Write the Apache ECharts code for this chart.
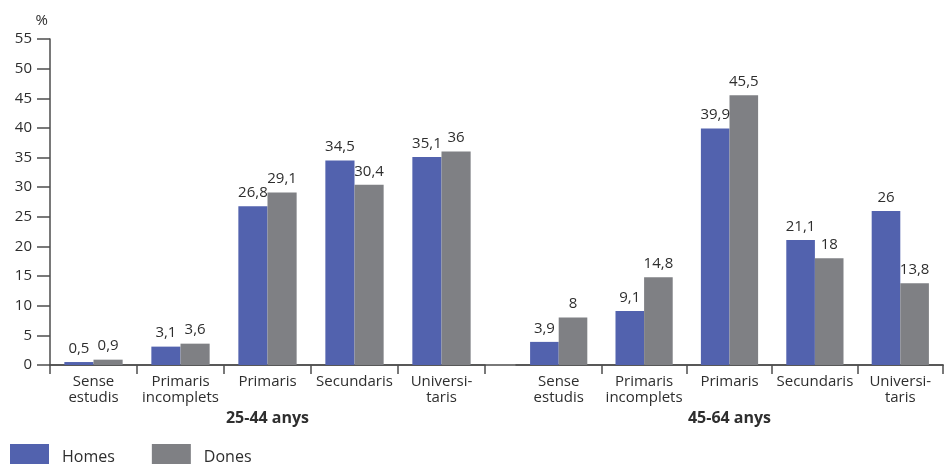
<!DOCTYPE html>
<html>
<head>
<meta charset="utf-8">
<script src="https://cdn.jsdelivr.net/npm/echarts@6/dist/echarts.min.js"></script>
<style>
  html, body { margin: 0; padding: 0; background: #fff; }
  #chart { width: 945px; height: 464px; }
</style>
</head>
<body>
<div id="chart"></div>
<script>
// Nivell d'estudis per grup d'edat i sexe (%)
const categories = ['Sense\nestudis', 'Primaris\nincomplets', 'Primaris', 'Secundaris', 'Universi-\ntaris'];
const ageGroups = ['25-44 anys', '45-64 anys'];
const seriesNames = ['Homes', 'Dones'];

const homes2544 = [0.5, 3.1, 26.8, 34.5, 35.1];
const dones2544 = [0.9, 3.6, 29.1, 30.4, 36];
const homes4564 = [3.9, 9.1, 39.9, 21.1, 26];
const dones4564 = [8, 14.8, 45.5, 18, 13.8];

const yTicks = [0, 5, 10, 15, 20, 25, 30, 35, 40, 45, 50, 55];

const BLUE = '#5262ae';
const GREY = '#7f8084';
const TEXT = '#2e2e2e';
const AXIS = '#4d4d4d';
const FONT = '"Open Sans", Lato, sans-serif';

const fmt = v => String(v).replace('.', ',');

const chart = echarts.init(document.getElementById('chart'), null, { renderer: 'canvas' });

const yMin = yTicks[0];
const yMax = yTicks[yTicks.length - 1];
const yStep = yTicks[1] - yTicks[0];

function catAxis(gridIndex, name, tickFilter) {
  return {
    type: 'category',
    gridIndex: gridIndex,
    data: categories,
    name: name,
    nameLocation: 'middle',
    nameGap: 44,
    nameTextStyle: { fontFamily: FONT, fontSize: 16, fontWeight: 'bold', color: TEXT },
    axisLine: { show: true, lineStyle: { color: AXIS, width: 1.5 } },
    axisTick: { show: true, length: 9, interval: tickFilter, lineStyle: { color: AXIS, width: 1.5 } },
    axisLabel: { margin: 9, fontFamily: FONT, fontSize: 15, color: TEXT, lineHeight: 16, interval: 0 }
  };
}

function valAxis(gridIndex, visible) {
  return {
    type: 'value',
    gridIndex: gridIndex,
    min: yMin,
    max: yMax,
    interval: yStep,
    show: visible,
    name: visible ? '%' : '',
    nameLocation: 'end',
    nameGap: 11,
    nameTextStyle: { fontFamily: FONT, fontSize: 15, color: TEXT, align: 'right', padding: [0, 2, 0, 0] },
    axisLine: { show: visible, lineStyle: { color: AXIS, width: 1.5 } },
    axisTick: { show: visible, length: 13, lineStyle: { color: AXIS, width: 1.5 } },
    axisLabel: { show: visible, margin: 18, fontFamily: FONT, fontSize: 15, color: TEXT },
    splitLine: { show: false }
  };
}

function barSeries(name, data, axisIndex, color) {
  return {
    name: name,
    type: 'bar',
    xAxisIndex: axisIndex,
    yAxisIndex: axisIndex,
    data: data,
    barGap: '0%',
    barCategoryGap: '33%',
    itemStyle: { color: color },
    label: {
      show: true,
      position: 'top',
      distance: 6,
      fontFamily: FONT,
      fontSize: 15,
      color: TEXT,
      formatter: p => fmt(p.value)
    }
  };
}

const option = {
  animation: false,
  backgroundColor: '#ffffff',
  grid: [
    { left: 50, top: 39, bottom: 99, width: 435 },
    { left: 516, top: 39, bottom: 99, width: 427 },
    // continuous baseline under both groups
    { left: 50, top: 39, bottom: 99, right: 2 }
  ],
  xAxis: [
    catAxis(0, ageGroups[0], () => true),
    catAxis(1, ageGroups[1], i => i > 0),
    {
      type: 'value', gridIndex: 2, min: 0, max: 1,
      axisLine: { show: true, lineStyle: { color: AXIS, width: 1.5 } },
      axisTick: { show: false }, axisLabel: { show: false }, splitLine: { show: false }
    }
  ],
  yAxis: [valAxis(0, true), valAxis(1, false), valAxis(2, false)],
  legend: {
    left: 10,
    top: 444,
    padding: 0,
    itemWidth: 39,
    itemHeight: 26,
    itemGap: 37,
    icon: 'rect',
    textStyle: { fontFamily: FONT, fontSize: 16, color: TEXT, padding: [0, 0, 0, 8] },
    data: seriesNames
  },
  series: [
    barSeries(seriesNames[0], homes2544, 0, BLUE),
    barSeries(seriesNames[1], dones2544, 0, GREY),
    barSeries(seriesNames[0], homes4564, 1, BLUE),
    barSeries(seriesNames[1], dones4564, 1, GREY)
  ]
};

chart.setOption(option);
</script>
</body>
</html>
